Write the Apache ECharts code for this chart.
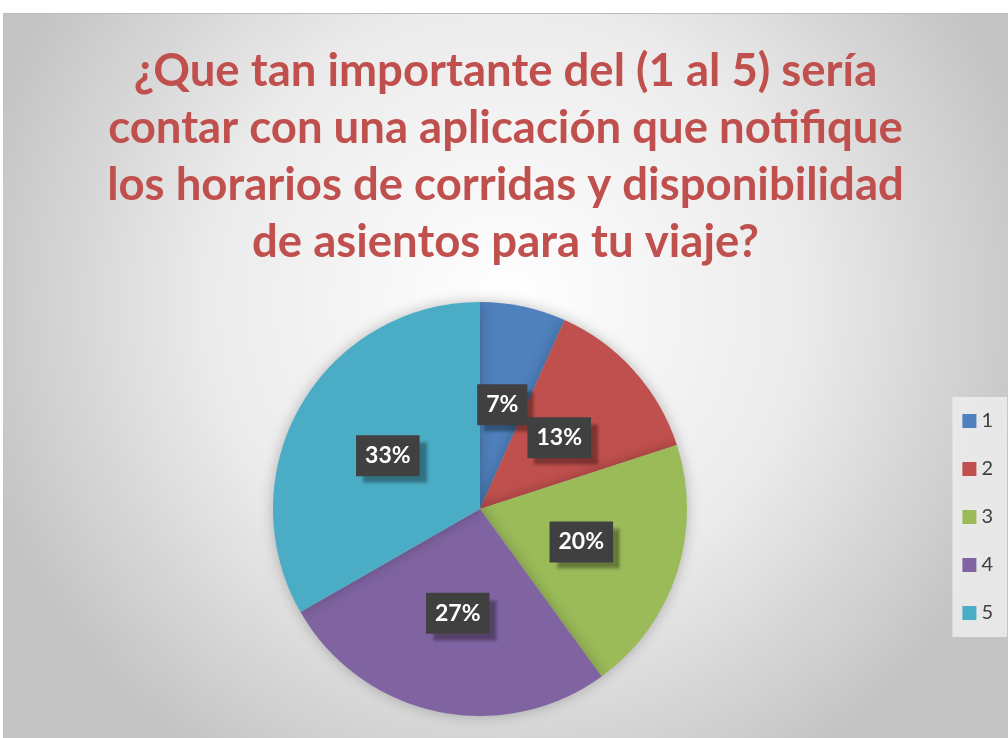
<!DOCTYPE html>
<html><head><meta charset="utf-8">
<script src="https://cdn.jsdelivr.net/npm/echarts@6/dist/echarts.min.js"></script>
<style>
html,body{margin:0;padding:0;background:#fff;}
#c{position:absolute;left:3px;top:13px;width:1005px;height:725px;border-top:1px solid #bdbdbd;box-sizing:border-box;}
</style></head><body>
<div id="c"></div>
<script>
const titleLines = ["¿Que tan importante del (1 al 5) sería","contar con una aplicación que notifique","los horarios de corridas y disponibilidad","de asientos para tu viaje?"];
const categories = ["1","2","3","4","5"];
const values = [6.7, 13.3, 20.0, 26.7, 33.3];
const colors = ["#4F81BD","#C0504D","#9BBB59","#8064A2","#4BACC6"];

const chart = echarts.init(document.getElementById('c'));
chart.setOption({
  backgroundColor: {
    type: 'radial', x: 0.5, y: 0.4, r: 0.75,
    colorStops: [{offset: 0, color: '#ffffff'}, {offset: 0.55, color: '#ebebeb'}, {offset: 1, color: '#c4c4c4'}]
  },
  title: {
    text: titleLines.join('\n'),
    left: 'center', top: 24,
    textStyle: {color: '#C0504D', fontFamily: 'Lato', fontWeight: 'bold', fontSize: 45.5, lineHeight: 57}
  },
  legend: {
    orient: 'vertical', right: 1, top: 383,
    itemWidth: 14, itemHeight: 14, itemGap: 28,
    icon: 'rect',
    backgroundColor: 'rgba(235,235,235,0.9)', padding: [14, 14, 14, 10],
    textStyle: {color: '#404040', fontSize: 20, fontFamily: 'Lato'},
    data: categories
  },
  series: [{
    type: 'pie',
    center: [477, 495], radius: 207,
    startAngle: 90, clockwise: true,
    percentPrecision: 0,
    avoidLabelOverlap: false,
    labelLayout: {hideOverlap: false},
    color: colors,
    itemStyle: {shadowBlur: 14, shadowColor: 'rgba(0,0,0,0.25)'},
    emphasis: {disabled: true},
    label: {
      show: true, position: 'inside', formatter: '{d}%',
      color: '#fff', fontFamily: 'Lato', fontWeight: 'bold', fontSize: 23, lineHeight: 26,
      backgroundColor: '#404040', padding: [8, 9, 7, 9],
      shadowColor: 'rgba(0,0,0,0.35)', shadowOffsetX: 7, shadowOffsetY: 7, shadowBlur: 3
    },
    labelLine: {show: false},
    data: categories.map((c, i) => ({name: c, value: values[i]}))
  }]
});
</script>
</body></html>
